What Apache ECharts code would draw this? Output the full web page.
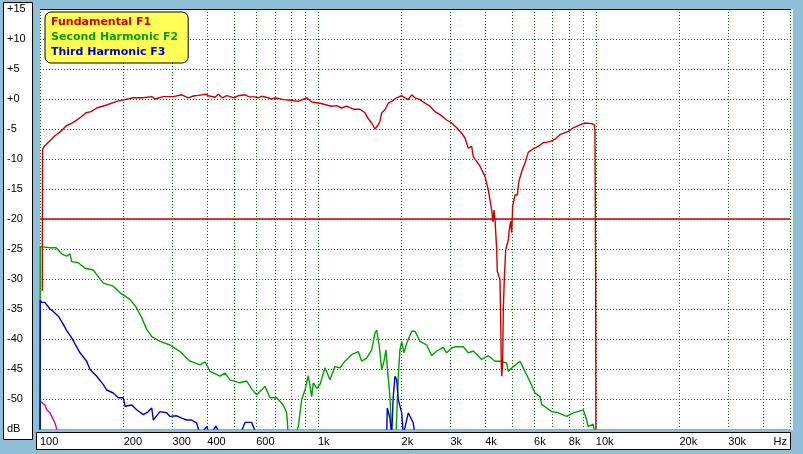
<!DOCTYPE html>
<html><head><meta charset="utf-8">
<script src="https://cdn.jsdelivr.net/npm/echarts@6/dist/echarts.min.js"></script>
<style>html,body{margin:0;padding:0;background:#8fbfd6;} #c{width:803px;height:454px;}</style>
</head><body><div id="c"></div><script>
// ---- data: [frequency Hz, level dB] ----
const fundamentalF1 = [
[101.9,-32],[102.1,-8.4],[103.6,-7.9],[106.6,-7.3],[109.5,-6.8],[112.6,-6.2],[115.8,-5.8],[120.7,-5.1],[124.1,-4.5],[129.3,-4.1],[134.7,-3.6],[140.4,-3.0],[146.4,-2.3],[152.6,-2.1],[160,-1.5],[173.8,-1.0],[188.8,-0.4],[202.3,-0.1],[216.7,0.2],[235.4,0.2],[252.4,0.4],[259.3,0],[277.8,0.4],[301.8,0.4],[323.6,0.7],[341.7,0.2],[356.2,0.5],[371.3,0.6],[395.7,0.8],[403.3,0.55],[426.4,0.3],[438.2,0.8],[452.9,0.2],[469.7,0.55],[500.3,0.2],[517.2,0.55],[546.7,0.7],[566.6,0.35],[593.9,0.35],[610.3,0.2],[627.8,0.45],[663,0.2],[682,0],[701,0.2],[750.7,-0.1],[798,-0.2],[850.2,-0.4],[911.5,0.2],[950.1,-0.5],[1017.6,-0.7],[1075.7,-1.0],[1121.2,-1.2],[1168.6,-1.1],[1218,-1.5],[1269.6,-1.2],[1341,-1.7],[1417.4,-1.7],[1477.3,-2.3],[1518.4,-3.3],[1561.6,-4.0],[1605,-5.0],[1649.4,-4.3],[1673,-3.7],[1696.7,-2.3],[1743.8,-1.8],[1791.9,-0.7],[1843.3,-0.4],[1921.3,0.2],[2002.6,0.55],[2057.9,0.2],[2114.9,-0.1],[2175.2,0.7],[2235.6,0.2],[2330,-0.1],[2428.7,-0.7],[2531.5,-1.2],[2638.6,-2.1],[2750,-2.6],[2907,-3.5],[3030,-4.0],[3159,-4.8],[3292,-5.7],[3383,-6.5],[3477,-8.2],[3576,-7.9],[3624,-9.6],[3831,-11.2],[3993,-12.9],[4104,-15.1],[4162,-16.8],[4221,-18.5],[4267,-20.5],[4303,-18.5],[4339,-20.1],[4400,-25.1],[4422,-28.7],[4459,-29],[4522,-30.1],[4548,-36.8],[4571,-44],[4586,-46.2],[4624,-44],[4648,-35.1],[4686,-30.1],[4741,-25.1],[4844,-23.5],[4884,-21.8],[4941,-20.4],[4982,-22.3],[5023,-17.9],[5120,-16],[5218,-16],[5292,-13.7],[5412,-12.1],[5561,-10.7],[5715,-8.9],[5957,-8.3],[6210,-7.9],[6473,-7.3],[6844,-7.1],[7134,-6.7],[7435,-5.95],[7963,-5.4],[8299,-4.8],[8772,-4.3],[9143,-4.0],[9666,-4.1],[9876,-4.3],[9933,-5.1],[9991,-30.3],[10016,-60]
];
const secondHarmonicF2 = [
[100,-60],[100.2,-24.6],[101.4,-24.7],[108.6,-24.8],[114.2,-24.8],[119.7,-25.8],[124.8,-26.2],[128.2,-25.8],[130,-27.1],[137.4,-27.3],[145.2,-28.2],[155.5,-28.5],[162.1,-29.6],[169,-30.7],[183.5,-31.2],[194.1,-32.3],[210.9,-33.4],[222.5,-34.8],[232,-36.4],[242.1,-38.4],[252.4,-39.6],[270.2,-40.4],[293.7,-41],[319,-42.1],[346.5,-43.7],[376.4,-44.3],[392.5,-43.8],[409,-45.4],[444.3,-46.2],[463.1,-45.7],[482.7,-46.8],[524.4,-47.3],[554.3,-47],[579.3,-48.4],[602.3,-49.3],[645.2,-47.9],[672.4,-49.8],[710.9,-49.8],[750.7,-51],[772.1,-52.3],[782.5,-56],[827,-56],[850.3,-54.6],[874.5,-50.1],[898.7,-48.5],[923.6,-46.1],[950.1,-49.6],[962.8,-47.3],[990.1,-48.2],[1017.6,-47.6],[1060.6,-44.8],[1105.4,-46.8],[1152.2,-44.6],[1200.9,-44.8],[1251.7,-43.7],[1323,-42.6],[1397.8,-42.1],[1437.6,-43.7],[1498.4,-43.2],[1561.6,-41.8],[1605,-39],[1627.7,-38.5],[1663,-41.2],[1696.7,-45.1],[1729,-43.7],[1757.9,-41.8],[1777,-44.6],[1817,-49.6],[1843,-56],[1910,-56],[1947,-46.2],[1974,-41.8],[2002.6,-40.4],[2041,-42.3],[2087.5,-40.7],[2175,-38.7],[2235.6,-38.7],[2330,-40.4],[2463.6,-41],[2568,-42.8],[2676.4,-42],[2827.5,-41.4],[2907.5,-42.3],[3030.6,-41.5],[3114.8,-41.3],[3336,-41.3],[3477,-42.3],[3624,-42],[3885,-43.4],[4104,-42.8],[4339,-43.7],[4522,-43.7],[4779,-44],[4844,-45.4],[5048,-44.6],[5337,-43.7],[5561,-45.4],[5798,-47.1],[6043,-49],[6299,-49.6],[6388,-50.9],[6658,-51.5],[6940,-52.1],[7328,-52.3],[7860,-52.9],[8299,-52.3],[9016,-51.8],[9272,-53.5],[9397,-54.6],[9795,-54.2],[9933,-56],[10100,-60]
];
const thirdHarmonicF3 = [
[100,-60],[100.2,-33.5],[101.4,-33.9],[104.2,-33.9],[105.7,-34.3],[108.6,-35],[111.6,-35.4],[116.4,-36.2],[119.7,-37.1],[124.8,-38.6],[130,-39.8],[139.3,-42.3],[147.2,-43.7],[151.4,-45.1],[160,-46.2],[169,-47.6],[173.8,-48.5],[183.5,-49],[191.3,-49.8],[199.4,-49.8],[202.3,-51.2],[213.8,-51],[222.8,-51.8],[235.4,-52.6],[245.4,-52.1],[252.4,-51.5],[255.7,-53.5],[270.2,-52.1],[285.7,-52.3],[293.7,-52.9],[310.4,-52.8],[323.6,-53.2],[337.3,-53.5],[351.6,-53.5],[366.4,-54],[376.4,-56],[398,-54.6],[409,-56],[430,-54.5],[444.3,-56],[524.4,-56],[546.7,-53.9],[577.8,-53.9],[602.3,-56],[1768.6,-56],[1777,-51.5],[1817,-53.2],[1843,-56],[1867,-49.6],[1894,-46.2],[1921,-46.8],[1947,-50.1],[1974,-50.1],[2002.6,-52.3],[2029,-56],[2114.9,-52.3],[2144.6,-52.6],[2204,-54],[2235.6,-56]
];
const fourthTrace = [
[100,-60],[100.2,-50.4],[101.4,-50.4],[104.2,-51],[105.7,-51.8],[108.6,-52.3],[110.2,-52.9],[113.2,-54],[116.4,-56]
];
// ---- axes ----
const xGridValues = [100,200,300,400,500,600,700,800,900,1000,2000,3000,4000,5000,6000,7000,8000,9000,10000,20000,30000,40000,50000];
const xLabelValues = [100,200,300,400,600,1000,2000,3000,4000,6000,8000,10000,20000,30000];
const xMin = 100, xMax = 50000;
const yMin = -55, yMax = 15, yStep = 5;

const RED = '#cc0000', GREEN = '#00a000', BLUE = '#0000cc', MAG = '#cc00cc';
const GRID_COLOR = '#007a00';
const FONT = 'Liberation Sans, Arial, sans-serif';

const chart = echarts.init(document.getElementById('c'), null, {renderer: 'canvas'});
const lg = Math.log10;

chart.setOption({
  animation: false,
  backgroundColor: '#8fbfd6',
  grid: {left: 40, top: 9, width: 750, height: 420, show: true, backgroundColor: '#ffffff', borderWidth: 0, containLabel: false, outerBoundsMode: 'none'},
  legend: {
    left: 45, top: 12, orient: 'vertical',
    icon: 'none', itemWidth: 0, itemHeight: 13, itemGap: 2,
    padding: [4, 10, 4, 1],
    backgroundColor: '#ffff55', borderColor: '#000000', borderWidth: 1, borderRadius: 6,
    selectedMode: false,
    itemStyle: {opacity: 0}, lineStyle: {opacity: 0, width: 0},
    textStyle: {fontFamily: 'DejaVu Sans', fontWeight: 'bold', fontSize: 11, lineHeight: 13},
    data: [
      {name: 'Fundamental F1', textStyle: {color: RED}},
      {name: 'Second Harmonic F2', textStyle: {color: GREEN}},
      {name: 'Third Harmonic F3', textStyle: {color: BLUE}}
    ]
  },
  graphic: [
    {type: 'rect', z: -1, shape: {x: 3.5, y: 2.5, width: 29, height: 437}, style: {fill: '#ffffff', stroke: '#000000', lineWidth: 1}},
    {type: 'rect', z: -1, shape: {x: 36.5, y: 432.5, width: 754, height: 17}, style: {fill: '#ffffff', stroke: '#000000', lineWidth: 1}},
    {type: 'rect', z: -1, shape: {x: 790, y: 9, width: 3, height: 421}, style: {fill: '#eeeeee'}},
    {type: 'line', z: 100, shape: {x1: 40, y1: 9.5, x2: 791, y2: 9.5}, style: {stroke: '#000000', lineWidth: 1}}
  ],
  xAxis: [
    {
      type: 'log', logBase: 10, min: xMin, max: xMax, position: 'bottom',
      axisLine: {show: true, onZero: false, lineStyle: {color: '#a8a8a8', width: 1}},
      axisTick: {show: false}, axisLabel: {show: false}, splitLine: {show: false}
    },
    {
      type: 'value', min: lg(xMin), max: lg(xMax), position: 'bottom',
      name: 'Hz', nameLocation: 'end', nameGap: -3,
      nameTextStyle: {fontFamily: FONT, fontSize: 11, color: '#000', align: 'right', verticalAlign: 'top', padding: [7, 0, 0, 0]},
      axisLine: {show: false, onZero: false},
      axisTick: {show: false, customValues: xGridValues.map(lg)},
      splitLine: {show: true, lineStyle: {color: GRID_COLOR, width: 1, type: [1, 2]}},
      axisLabel: {
        customValues: xLabelValues.map(lg),
        align: 'left', margin: 7, fontFamily: FONT, fontSize: 11, color: '#000',
        formatter: v => { const f = Math.round(Math.pow(10, v)); return f >= 1000 ? (f / 1000) + 'k' : String(f); }
      }
    }
  ],
  yAxis: {
    type: 'value', min: yMin, max: yMax, interval: yStep,
    axisLine: {show: false}, axisTick: {show: false},
    splitLine: {show: true, lineStyle: {color: GRID_COLOR, width: 1, type: [1, 2]}},
    axisLabel: {
      align: 'left', margin: 33, fontFamily: FONT, fontSize: 11, color: '#000', padding: [4, 0, 0, 0],
      formatter: v => v === yMin ? 'dB' : (v >= 0 ? '+' + v : String(v))
    }
  },
  series: [
    {name: 'F4', type: 'line', xAxisIndex: 0, data: fourthTrace, showSymbol: false, symbol: 'none', lineStyle: {color: MAG, width: 1.4}, itemStyle: {color: MAG}, z: 2},
    {name: 'Second Harmonic F2', type: 'line', xAxisIndex: 0, data: secondHarmonicF2, showSymbol: false, symbol: 'none', lineStyle: {color: GREEN, width: 1.4}, itemStyle: {color: GREEN}, z: 3},
    {name: 'Third Harmonic F3', type: 'line', xAxisIndex: 0, data: thirdHarmonicF3, showSymbol: false, symbol: 'none', lineStyle: {color: BLUE, width: 1.4}, itemStyle: {color: BLUE}, z: 4},
    {name: 'Fundamental F1', type: 'line', xAxisIndex: 0, data: fundamentalF1, showSymbol: false, symbol: 'none', lineStyle: {color: RED, width: 1.4}, itemStyle: {color: RED}, z: 5,
      markLine: {silent: true, symbol: 'none', label: {show: false}, lineStyle: {color: RED, width: 1.5, type: 'solid', opacity: 1}, emphasis: {disabled: true}, data: [{yAxis: -20}]}}
  ]
});
</script></body></html>
